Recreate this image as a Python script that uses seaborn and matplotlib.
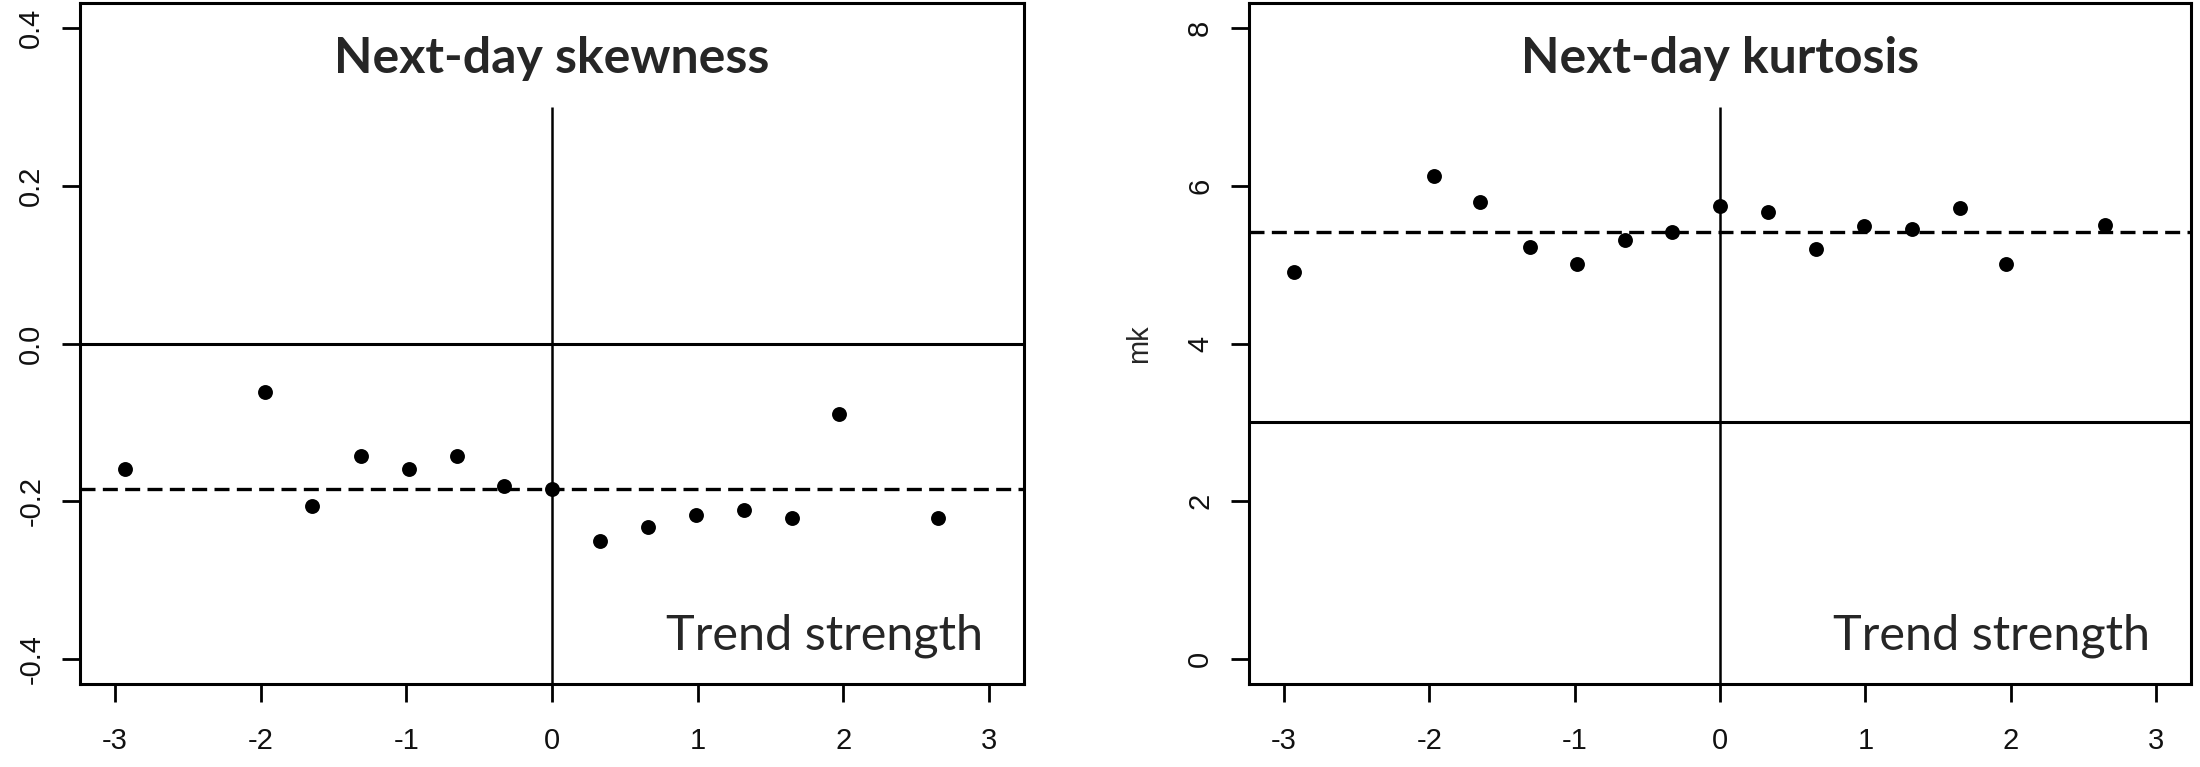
import numpy as np
import pandas as pd
import matplotlib
matplotlib.use("Agg")
from matplotlib import pyplot as plt
import seaborn as sns

# valori
trend = [-2.93, -1.97, -1.65, -1.31, -0.98, -0.65, -0.33, 0.0, 0.33, 0.66, 0.99, 1.32, 1.65, 1.97, 2.65]
skew = [-0.159, -0.062, -0.206, -0.143, -0.159, -0.143, -0.181, -0.185,
        -0.251, -0.233, -0.218, -0.211, -0.221, -0.089, -0.221]
kurt = [4.91, 6.12, 5.79, 5.23, 5.01, 5.31, 5.42, 5.75, 5.67, 5.20, 5.49, 5.45, 5.72, 5.01, 5.50]
skew_mean = -0.185
kurt_mean = 5.42
skew_ref = 0.0
kurt_ref = 3.0
xticks = [-3, -2, -1, 0, 1, 2, 3]
skew_ticks = [-0.4, -0.2, 0.0, 0.2, 0.4]
kurt_ticks = [0, 2, 4, 6, 8]

df = pd.DataFrame({"trend": trend, "skew": skew, "kurt": kurt})

sns.set_theme(style="white")
plt.rcParams["font.family"] = ["Liberation Sans", "DejaVu Sans"]

fig = plt.figure(figsize=(22, 7.67), dpi=100)
ax1 = fig.add_axes([0.03636, 0.1082, 0.4291, 0.8879])
ax2 = fig.add_axes([0.5677, 0.1082, 0.4282, 0.8879])

pannelli = [
    (ax1, "skew", skew_mean, skew_ref, skew_ticks, (-0.432, 0.432), 0.3, "Next-day skewness", ""),
    (ax2, "kurt", kurt_mean, kurt_ref, kurt_ticks, (-0.32, 8.32), 7.0, "Next-day kurtosis", "mk"),
]

for ax, col, media, rif, yt, ylim, vtop, titolo, ylab in pannelli:
    sns.scatterplot(data=df, x="trend", y=col, ax=ax, color="black", s=115,
                    edgecolor="black", linewidth=0, zorder=3)
    ax.set_xlim(-3.24, 3.24)
    ax.set_ylim(*ylim)
    ax.axhline(rif, color="black", lw=2.2, zorder=2)
    ax.axhline(media, color="black", lw=2.4, ls=(0, (4.5, 2.2)), zorder=2)
    ax.vlines(0, ylim[0], vtop, color="black", lw=1.8, zorder=2)

    ax.set_xticks(xticks)
    ax.set_xticklabels([str(v) for v in xticks])
    ax.set_yticks(yt)
    ax.set_yticklabels([f"{v:.1f}" if col == "skew" else str(v) for v in yt])
    ax.tick_params(axis="both", direction="out", length=13, width=2.0,
                   color="black", labelsize=21, labelcolor="#111111")
    ax.tick_params(axis="x", pad=18, bottom=True)
    ax.tick_params(axis="y", pad=12, left=True)
    for lab in ax.get_yticklabels():
        lab.set_rotation(90)
        lab.set_va("center")
    for s in ax.spines.values():
        s.set_color("black")
        s.set_linewidth(2.2)

    ax.set_xlabel("")
    ax.set_ylabel(ylab, fontsize=21, labelpad=24)

    ax.text(0.5, 0.918, titolo, transform=ax.transAxes, ha="center", va="center",
            fontsize=36, fontweight="bold", family=["Lato", "DejaVu Sans"])
    ax.text(0.957, 0.0514, "Trend strength", transform=ax.transAxes, ha="right",
            va="baseline", fontsize=35, family=["Lato", "DejaVu Sans"])

plt.savefig("out.png", dpi=100, facecolor="white")
